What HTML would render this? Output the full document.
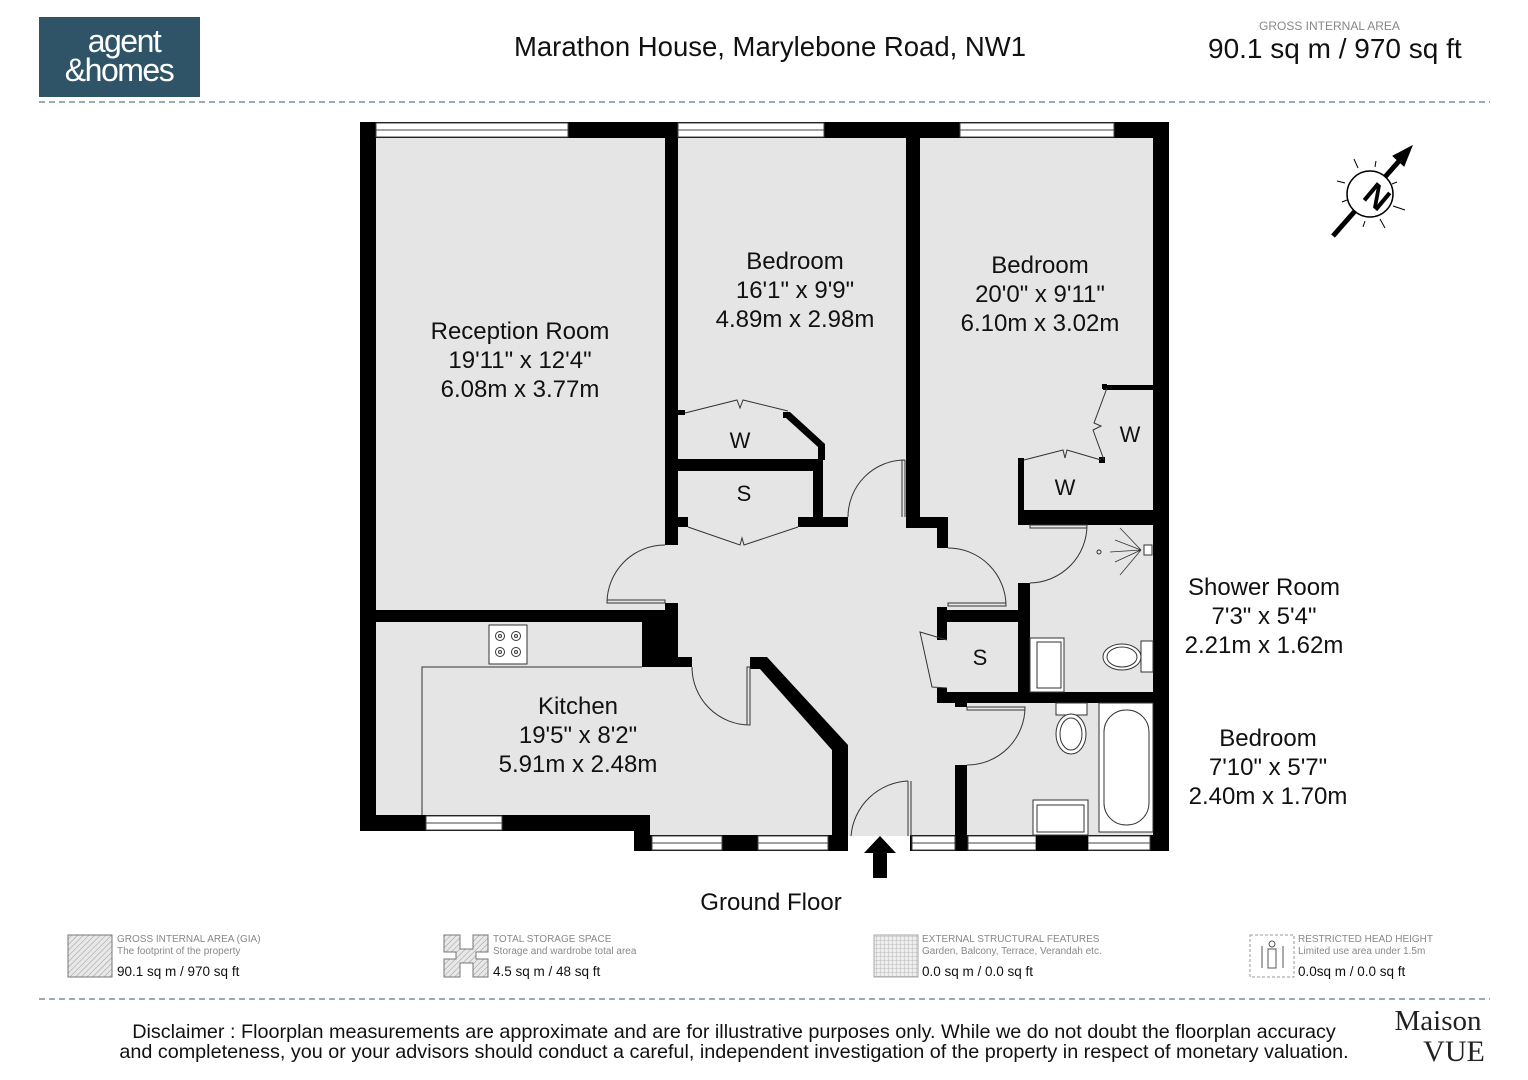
<!DOCTYPE html>
<html><head><meta charset="utf-8"><style>
html,body{margin:0;padding:0;background:#fff;}
svg{display:block;}
.s{font-family:"Liberation Sans",Arial,sans-serif;}
.r{font-family:"Liberation Serif",serif;}
</style></head><body>
<svg width="1528" height="1080" viewBox="0 0 1528 1080" xmlns="http://www.w3.org/2000/svg" class="s">
<defs>
<pattern id="hatch" width="4" height="4" patternUnits="userSpaceOnUse" patternTransform="rotate(45)">
<rect width="4" height="4" fill="#e8e8e8"/><line x1="0" y1="0" x2="0" y2="4" stroke="#999" stroke-width="1"/></pattern>
<pattern id="grid" width="4" height="4" patternUnits="userSpaceOnUse">
<rect width="4" height="4" fill="#eee"/><path d="M0 0H4M0 0V4" stroke="#bbb" stroke-width="1"/></pattern>
</defs>
<rect x="39" y="17" width="161" height="80" fill="#2f5468"/>
<text x="124" y="52" fill="#fff" font-size="32" text-anchor="middle" letter-spacing="-1.5">agent</text>
<text x="119" y="81" fill="#fff" font-size="32" text-anchor="middle" letter-spacing="-1.5">&amp;homes</text>
<text x="770" y="56" font-size="27.5" text-anchor="middle" fill="#111">Marathon House, Marylebone Road, NW1</text>
<text x="1259" y="30" font-size="12" fill="#888">GROSS INTERNAL AREA</text>
<text x="1208" y="58" font-size="28" fill="#111">90.1 sq m / 970 sq ft</text>
<line x1="39" y1="102" x2="1490" y2="102" stroke="#7a8f9a" stroke-width="1.5" stroke-dasharray="6,4"/>
<line x1="39" y1="999" x2="1490" y2="999" stroke="#7a8f9a" stroke-width="1.5" stroke-dasharray="6,4"/>

<polygon points="360,122 1169,122 1169,836 634,836 634,831 360,831" fill="#e5e5e5"/>

<g fill="#000">
<rect x="360" y="122" width="16" height="709"/>
<rect x="360" y="122" width="809" height="16"/>
<rect x="1153" y="122" width="16" height="729"/>
<rect x="360" y="815" width="290" height="16"/>
<rect x="634" y="815" width="16" height="36"/>
<rect x="634" y="835" width="214" height="16"/>
<rect x="910" y="835" width="259" height="16"/>
<rect x="665" y="122" width="13" height="423"/>
<rect x="665" y="603" width="13" height="64"/>
<rect x="642" y="622" width="36" height="45"/>
<rect x="376" y="610" width="300" height="12"/>
<rect x="665" y="657" width="27" height="10"/>
<polygon points="750,657 767,657 848,745 848,836 832,836 832,750 760,669 750,669"/>
<rect x="678" y="410" width="7" height="5"/>
<rect x="678" y="459" width="145" height="12"/>
<rect x="813" y="459" width="10" height="68"/>
<polygon points="783,412 790,412 825,444 825,460 818,460 818,447 786,418 783,418"/>
<rect x="678" y="517" width="10" height="10"/>
<rect x="798" y="517" width="50" height="10"/>
<rect x="906" y="122" width="14" height="406"/>
<rect x="906" y="517" width="42" height="11"/>
<rect x="937" y="517" width="11" height="31"/>
<rect x="1103" y="385" width="50" height="5"/>
<rect x="1102" y="384" width="5" height="5"/>
<rect x="1099" y="457" width="6" height="6"/>
<rect x="1018" y="458" width="6" height="65"/>
<rect x="1018" y="510" width="135" height="15"/>
<rect x="1018" y="583" width="12" height="120"/>
<rect x="937" y="610" width="93" height="12"/>
<rect x="937" y="607" width="10" height="33"/>
<rect x="937" y="688" width="10" height="15"/>
<rect x="937" y="692" width="232" height="11"/>
<rect x="955" y="703" width="12" height="4"/>
<rect x="955" y="765" width="12" height="86"/>
</g>

<g fill="#fff" stroke="#444" stroke-width="1">
<rect x="376" y="123" width="192" height="14"/><line x1="376" y1="130" x2="568" y2="130"/>
<rect x="678" y="123" width="146" height="14"/><line x1="678" y1="130" x2="824" y2="130"/>
<rect x="960" y="123" width="154" height="14"/><line x1="960" y1="130" x2="1114" y2="130"/>
<rect x="426" y="816" width="76" height="14"/><line x1="426" y1="823" x2="502" y2="823"/>
<rect x="652" y="836" width="70" height="14"/><line x1="652" y1="843" x2="722" y2="843"/>
<rect x="758" y="836" width="70" height="14"/><line x1="758" y1="843" x2="828" y2="843"/>
<rect x="912" y="836" width="43" height="14"/><line x1="912" y1="843" x2="955" y2="843"/>
<rect x="968" y="836" width="68" height="14"/><line x1="968" y1="843" x2="1036" y2="843"/>
<rect x="1088" y="836" width="62" height="14"/><line x1="1088" y1="843" x2="1150" y2="843"/>
</g>
<rect x="1036" y="835" width="52" height="16" fill="#000"/>

<g fill="none" stroke="#333" stroke-width="1">
<path d="M665,545 A58,58 0 0 0 607,603 L665,603 L665,600 L607,600"/>
<path d="M692,667 A58,58 0 0 0 750,725 L750,667 L747,667 L747,725"/>
<path d="M905,460 A57,57 0 0 0 848,517 M905,460 V517 M902,460 V517"/>
<path d="M948,548 A58,58 0 0 1 1006,606 L948,606 L948,603 L1006,603"/>
<path d="M1030,583 A58,58 0 0 0 1087,525 L1030,525 L1030,528 L1087,528"/>
<path d="M967,765 A58,58 0 0 0 1025,707 L967,707 L967,710 L1025,710"/>
<path d="M908,781 A60,60 0 0 0 851,836 M908,781 V836 M911,781 V836"/>
<path d="M685,413 L737,400 L740,408 L743,400 L788,411"/>
<path d="M688,527 L740,545 L742,538 L744,545 L798,527"/>
<path d="M1024,460 L1063,450 L1065,458 L1067,450 L1101,460"/>
<path d="M1107,388 L1094,423 L1101,426 L1093,430 L1104,460"/>
<path d="M947,640 L920,632 L932,687 L947,688"/>
<path d="M422,815 V667 H642"/>
<rect x="489" y="625" width="38" height="39" fill="#fff"/>
<circle cx="500" cy="636" r="4.5"/><circle cx="516" cy="636" r="4.5"/>
<circle cx="500" cy="652" r="4.5"/><circle cx="516" cy="652" r="4.5"/>
<circle cx="500" cy="636" r="1.5"/><circle cx="516" cy="636" r="1.5"/>
<circle cx="500" cy="652" r="1.5"/><circle cx="516" cy="652" r="1.5"/>
<path d="M1141,550 L1110,552 M1141,550 L1120,528 M1141,550 L1120,575 M1141,550 L1115,540 M1141,550 L1115,562" stroke-width="0.8"/>
<circle cx="1099" cy="552" r="2"/>
<rect x="1144" y="545" width="8" height="10" fill="#fff"/>
<rect x="1030" y="638" width="34" height="54" fill="#fff"/><rect x="1037" y="642" width="24" height="46"/>
<rect x="1141" y="641" width="12" height="31" fill="#fff"/>
<ellipse cx="1122" cy="657" rx="19" ry="13" fill="#fff"/><ellipse cx="1122" cy="657" rx="15" ry="10"/>
<rect x="1056" y="703" width="31" height="12" fill="#fff"/>
<ellipse cx="1071" cy="734" rx="15" ry="20" fill="#fff"/><ellipse cx="1071" cy="734" rx="11" ry="16"/>
<rect x="1099" y="703" width="54" height="129" fill="#fff"/><rect x="1104" y="710" width="45" height="115" rx="22"/>
<rect x="1033" y="800" width="55" height="35" fill="#fff"/><rect x="1037" y="805" width="47" height="27"/>
</g>
<polygon points="880,836 864,853 873,853 873,878 887,878 887,853 896,853" fill="#000"/>

<g font-size="24" fill="#111" text-anchor="middle">
<text x="520" y="339">Reception Room</text><text x="520" y="368">19'11" x 12'4"</text><text x="520" y="397">6.08m x 3.77m</text>
<text x="795" y="269">Bedroom</text><text x="795" y="298">16'1" x 9'9"</text><text x="795" y="327">4.89m x 2.98m</text>
<text x="1040" y="273">Bedroom</text><text x="1040" y="302">20'0" x 9'11"</text><text x="1040" y="331">6.10m x 3.02m</text>
<text x="578" y="714">Kitchen</text><text x="578" y="743">19'5" x 8'2"</text><text x="578" y="772">5.91m x 2.48m</text>
<text x="1264" y="595">Shower Room</text><text x="1264" y="624">7'3" x 5'4"</text><text x="1264" y="653">2.21m x 1.62m</text>
<text x="1268" y="746">Bedroom</text><text x="1268" y="775">7'10" x 5'7"</text><text x="1268" y="804">2.40m x 1.70m</text>
<text x="740" y="448" font-size="22">W</text><text x="744" y="501" font-size="22">S</text><text x="1130" y="442" font-size="22">W</text><text x="1065" y="495" font-size="22">W</text><text x="980" y="665" font-size="22">S</text>
<text x="771" y="910">Ground Floor</text>
</g>

<g stroke="#000" fill="none">
<line x1="1333" y1="236" x2="1400" y2="160" stroke-width="5"/>
<polygon points="1412,146 1393,156 1404,166" fill="#000"/>
<circle cx="1370" cy="194" r="23" stroke-width="1.5" fill="#fff"/>
<g stroke-width="1"><line x1="1358" y1="168" x2="1354" y2="159"/><line x1="1375" y1="167" x2="1376" y2="161"/><line x1="1345" y1="183" x2="1337" y2="181"/><line x1="1393" y1="206" x2="1405" y2="210"/><line x1="1365" y1="221" x2="1363" y2="227"/><line x1="1380" y1="219" x2="1385" y2="228"/><line x1="1347" y1="200" x2="1342" y2="202"/><line x1="1392" y1="184" x2="1397" y2="182"/></g>
</g>
<text x="0" y="0" font-size="32" font-weight="bold" text-anchor="middle" fill="#000" transform="translate(1370,205) rotate(40)">N</text>

<rect x="68" y="935" width="44" height="42" fill="url(#hatch)" stroke="#777" stroke-width="1"/>
<g font-size="10" fill="#888"><text x="117" y="942">GROSS INTERNAL AREA (GIA)</text><text x="117" y="954">The footprint of the property</text>
<text x="493" y="942">TOTAL STORAGE SPACE</text><text x="493" y="954">Storage and wardrobe total area</text>
<text x="922" y="942">EXTERNAL STRUCTURAL FEATURES</text><text x="922" y="954">Garden, Balcony, Terrace, Verandah etc.</text>
<text x="1298" y="942">RESTRICTED HEAD HEIGHT</text><text x="1298" y="954">Limited use area under 1.5m</text></g>
<g font-size="13.5" fill="#111"><text x="117" y="976">90.1 sq m / 970 sq ft</text><text x="493" y="976">4.5 sq m / 48 sq ft</text><text x="922" y="976">0.0 sq m / 0.0 sq ft</text><text x="1298" y="976">0.0sq m / 0.0 sq ft</text></g>
<path d="M444,935 H460 V949 H473 V935 H488 V952 H476 V959 H488 V977 H473 V963 H460 V977 H444 V959 H456 V952 H444 Z" fill="url(#hatch)" stroke="#777"/>
<rect x="874" y="935" width="44" height="42" fill="url(#grid)" stroke="#aaa"/>
<rect x="1250" y="935" width="44" height="42" fill="none" stroke="#999" stroke-dasharray="3,2"/>
<circle cx="1272" cy="944" r="3" fill="none" stroke="#555"/><rect x="1268" y="949" width="8" height="19" fill="none" stroke="#555"/>
<line x1="1262" y1="946" x2="1262" y2="968" stroke="#555"/><line x1="1283" y1="946" x2="1283" y2="968" stroke="#555"/>

<g font-size="19.8" fill="#111" text-anchor="middle">
<text x="734" y="1038">Disclaimer : Floorplan measurements are approximate and are for illustrative purposes only. While we do not doubt the floorplan accuracy</text>
<text x="734" y="1058">and completeness, you or your advisors should conduct a careful, independent investigation of the property in respect of monetary valuation.</text>
</g>
<text x="1438" y="1030" class="r" font-size="29" text-anchor="middle" fill="#222">Maison</text>
<text x="1454" y="1061" class="r" font-size="30" text-anchor="middle" fill="#222">VUE</text>
</svg>
</body></html>
